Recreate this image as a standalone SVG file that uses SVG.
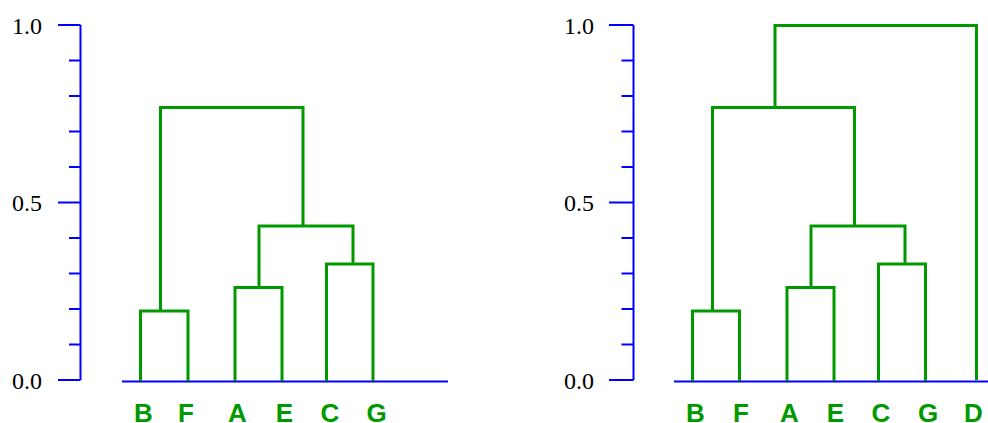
<svg xmlns="http://www.w3.org/2000/svg" width="988" height="423" viewBox="0 0 988 423">
<style>
.ax{stroke:#0000ff;stroke-width:2;fill:none}
.br{stroke:#009900;stroke-width:3;fill:none;stroke-linejoin:miter}
.num{font-family:"Liberation Serif",serif;font-size:24px;fill:#000;text-anchor:end}
.lbl{font-family:"Liberation Sans",Arial,sans-serif;font-size:26px;font-weight:bold;fill:#009900;text-anchor:middle}
</style>
<rect width="988" height="423" fill="#fff"/>
<g id="axis-left">
<path class="ax" d="M80.5 25V380M58 25H80.5M58 202.5H80.5M58 380H80.5M69 60.5H80.5M69 96H80.5M69 131.5H80.5M69 167H80.5M69 238H80.5M69 273.5H80.5M69 309H80.5M69 344.5H80.5M122 381.5H448"/>
<text class="num" x="42" y="33.5">1.0</text>
<text class="num" x="42" y="211">0.5</text>
<text class="num" x="42" y="388.5">0.0</text>
</g>
<g id="axis-right">
<path class="ax" d="M633.5 25V380M609 25H633.5M609 202.5H633.5M609 380H633.5M621.5 60.5H633.5M621.5 96H633.5M621.5 131.5H633.5M621.5 167H633.5M621.5 238H633.5M621.5 273.5H633.5M621.5 309H633.5M621.5 344.5H633.5M674 381.5H988"/>
<text class="num" x="594" y="33.5">1.0</text>
<text class="num" x="594" y="211">0.5</text>
<text class="num" x="594" y="388.5">0.0</text>
</g>
<g id="connectors">
<path class="br" d="M140.5 381V311H188V381"/>
<path class="br" d="M235 381V287.5H282V381"/>
<path class="br" d="M326.5 381V264H373V381"/>
<path class="br" d="M259 287.5V226H353V264"/>
<path class="br" d="M160.5 311V107.5H303V226"/>
<path class="br" d="M692.5 381V311H739.5V381"/>
<path class="br" d="M787 381V287.5H834V381"/>
<path class="br" d="M878.5 381V264H925.5V381"/>
<path class="br" d="M811 287.5V226H905V264"/>
<path class="br" d="M712.5 311V107.5H854.5V226"/>
<path class="br" d="M775 107.5V25.5H976.5V380"/>
</g>
<g id="leaf-B-left"><text class="lbl" x="143.5" y="422">B</text></g>
<g id="leaf-F-left"><text class="lbl" x="186" y="422">F</text></g>
<g id="leaf-A-left"><text class="lbl" x="237.5" y="422">A</text></g>
<g id="leaf-E-left"><text class="lbl" x="284.5" y="422">E</text></g>
<g id="leaf-C-left"><text class="lbl" x="330" y="422">C</text></g>
<g id="leaf-G-left"><text class="lbl" x="376.5" y="422">G</text></g>
<g id="leaf-B-right"><text class="lbl" x="695.5" y="422">B</text></g>
<g id="leaf-F-right"><text class="lbl" x="741" y="422">F</text></g>
<g id="leaf-A-right"><text class="lbl" x="789.5" y="422">A</text></g>
<g id="leaf-E-right"><text class="lbl" x="835.5" y="422">E</text></g>
<g id="leaf-C-right"><text class="lbl" x="881" y="422">C</text></g>
<g id="leaf-G-right"><text class="lbl" x="928" y="422">G</text></g>
<g id="leaf-D-right"><text class="lbl" x="973.5" y="422">D</text></g>
</svg>
